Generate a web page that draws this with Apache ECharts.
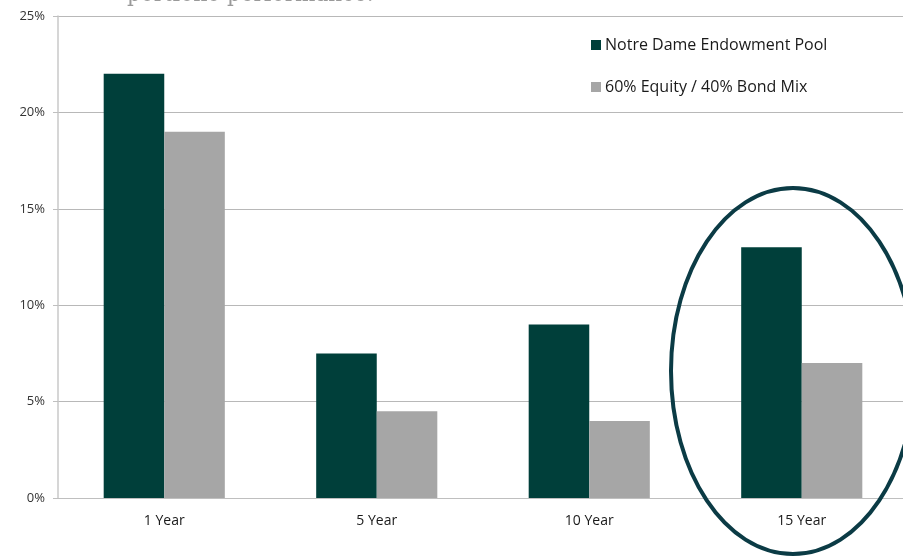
<!DOCTYPE html>
<html>
<head>
<meta charset="utf-8">
<script src="https://cdn.jsdelivr.net/npm/echarts@6/dist/echarts.min.js"></script>
<style>
  html, body { margin: 0; padding: 0; background: #fff; }
  #chart { width: 903px; height: 556px; }
</style>
</head>
<body>
<div id="chart"></div>
<script>
// Annualized returns by horizon (percent)
const periods = ['1 Year', '5 Year', '10 Year', '15 Year'];
const endowmentPool = [22, 7.5, 9, 13];
const balancedMix = [19, 4.5, 4, 7];
const seriesNames = ['Notre Dame Endowment Pool', '60% Equity / 40% Bond Mix'];

const chart = echarts.init(document.getElementById('chart'));

chart.setOption({
  animation: false,
  backgroundColor: '#ffffff',
  // plot area runs slightly past the right edge of the canvas
  grid: { left: 58, width: 850, top: 16, bottom: 58, containLabel: false, outerBoundsMode: 'none' },
  legend: {
    orient: 'vertical',
    left: 586,
    top: 32,
    itemGap: 26,
    itemWidth: 10,
    itemHeight: 10,
    icon: 'rect',
    textStyle: { fontFamily: 'Open Sans', fontSize: 16, color: '#1a1a1a', padding: [0, 0, 0, -1] },
    data: seriesNames
  },
  xAxis: {
    type: 'category',
    data: periods,
    axisLine: { lineStyle: { color: '#bfbfbf', width: 1 } },
    axisTick: { show: false },
    axisLabel: { fontFamily: 'Open Sans', fontSize: 14, color: '#1a1a1a', margin: 16 }
  },
  yAxis: {
    type: 'value',
    min: 0,
    max: 25,
    interval: 5,
    axisLine: { show: true, lineStyle: { color: '#c8c8c8', width: 1.5 } },
    axisTick: { show: true, inside: false, length: 5, lineStyle: { color: '#bfbfbf' } },
    axisLabel: { formatter: '{value}%', fontFamily: 'Open Sans', fontSize: 13, color: '#333', margin: 13 },
    splitLine: { lineStyle: { color: '#b8b8b8', width: 1 } }
  },
  series: [
    {
      name: seriesNames[0],
      type: 'bar',
      data: endowmentPool,
      barGap: '0%',
      barCategoryGap: '43%',
      itemStyle: { color: '#003f3a' }
    },
    {
      name: seriesNames[1],
      type: 'bar',
      data: balancedMix,
      itemStyle: { color: '#a6a6a6' }
    }
  ],
  graphic: [
    {
      type: 'text',
      left: 127,
      top: -16,
      style: {
        text: 'portfolio performance.',
        fontFamily: 'DejaVu Serif',
        fontSize: 21.5,
        fill: '#9a9a9a'
      }
    },
    {
      type: 'ellipse',
      shape: { cx: 793, cy: 371, rx: 122, ry: 183 },
      style: { fill: 'none', stroke: '#0b3b45', lineWidth: 4 },
      z: 100
    }
  ]
});
</script>
</body>
</html>
